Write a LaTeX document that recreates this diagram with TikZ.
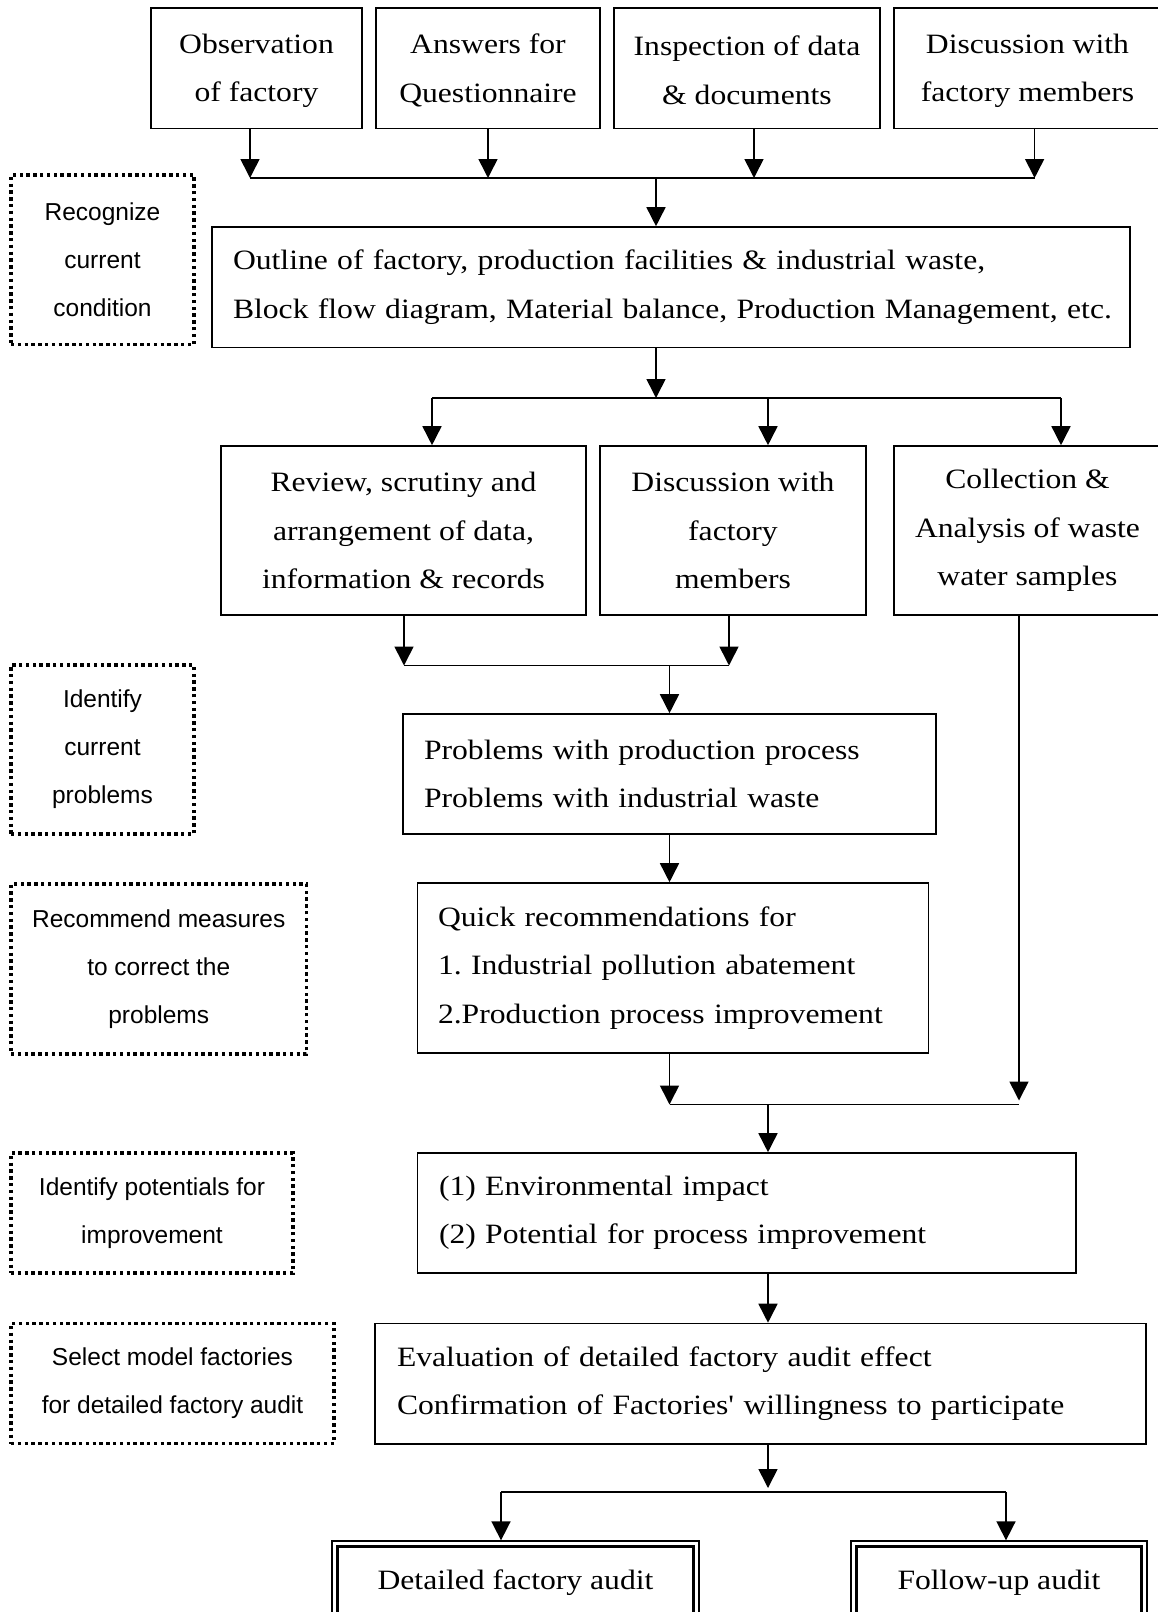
\documentclass[tikz,border=0pt]{standalone}
\usepackage{fontspec}
\usetikzlibrary{arrows.meta,calc}
\newfontfamily\boxserif{Liberation Serif}[FakeStretch=1.13]
\newfontfamily\noteSans{Liberation Sans}
\frenchspacing
\tikzset{
  flowbox/.style={draw, line width=1.6pt, inner sep=0pt, align=center,
    font=\boxserif\fontsize{28}{48.3}\selectfont},
  leftbox/.style={draw, line width=1.6pt, inner ysep=0pt, align=left,
    font=\boxserif\fontsize{28}{48.3}\selectfont},
  notebox/.style={draw, line width=3.4pt, dash pattern=on 3.4pt off 3.4pt,
    inner sep=0pt, align=center,
    font=\noteSans\fontsize{24.5}{48}\selectfont},
  endbox/.style={draw, line width=1.3pt, inner sep=0pt, align=center,
    font=\boxserif\fontsize{28}{48.3}\selectfont},
  link/.style={line width=1.6pt},
  flow/.style={line width=1.6pt, -{Triangle[length=19pt,width=19pt]}},
}
\begin{document}
\begin{tikzpicture}[x=1pt, y=-1pt]
\useasboundingbox (0,0) rectangle (1158,1612);
\clip (0,0) rectangle (1158,1612);

% ---- information sources ----
\node[flowbox, minimum width=211pt, minimum height=120.5pt] (obs) at (256.5,68.25)
  {\rule{0pt}{24pt}Observation\\of factory};
\node[flowbox, minimum width=224pt, minimum height=120.5pt] (ans) at (488,68.25)
  {\rule{0pt}{24pt}Answers for\\Questionnaire};
\node[flowbox, minimum width=266pt, minimum height=120.5pt] (insp) at (747,68.25)
  {\rule{0pt}{24pt}Inspection of data\\\& documents};
\node[flowbox, minimum width=267pt, minimum height=120.5pt] (disc) at (1027.5,68.25)
  {\rule{0pt}{24pt}Discussion with\\factory members};

\coordinate (j1a) at (250,178);
\coordinate (j1b) at (488,178);
\coordinate (j1c) at (754,178);
\coordinate (j1d) at (1034.6,178);
\coordinate (j1m) at (656,178);

% ---- outline ----
\node[leftbox, inner xsep=21pt, text width=876pt, minimum height=120.6pt] (outl) at (671,287.3)
  {\mbox{Outline of factory, production facilities \& industrial waste,}\\
   \mbox{Block flow diagram, Material balance, Production Management, etc.}};

\coordinate (j2m) at (656,398);
\coordinate (j2a) at (432,398);
\coordinate (j2b) at (768,398);
\coordinate (j2c) at (1061,398);

% ---- analysis ----
\node[flowbox, minimum width=365pt, minimum height=169pt] (rev) at (403.5,530.5)
  {Review, scrutiny and\\arrangement of data,\\information \& records};
\node[flowbox, minimum width=266pt, minimum height=169pt] (disc2) at (733,530.5)
  {Discussion with\\factory\\members};
\node[flowbox, minimum width=267pt, minimum height=169pt] (coll) at (1027.5,530.5)
  {Collection \&\\Analysis of waste\\water samples};

\coordinate (j3a) at (404,665.5);
\coordinate (j3b) at (729,665.5);
\coordinate (j3m) at (669.5,665.5);

\node[leftbox, inner xsep=21pt, text width=491pt, minimum height=120pt] (prob) at (669.5,774)
  {Problems with production process\\Problems with industrial waste};

\node[leftbox, inner xsep=20.5pt, text width=470pt, minimum height=170pt] (quick) at (673,968)
  {Quick recommendations for\\1. Industrial pollution abatement\\2.Production process improvement};

\coordinate (j4a) at (669.5,1104.5);
\coordinate (j4b) at (1019,1104.5);
\coordinate (j4m) at (768,1104.5);

\node[leftbox, inner xsep=21.5pt, text width=615.5pt, minimum height=120pt] (env) at (746.75,1213)
  {(1) Environmental impact\\(2) Potential for process improvement};

\node[leftbox, inner xsep=22pt, text width=727pt, minimum height=120.5pt] (eval) at (760.5,1383.75)
  {Evaluation of detailed factory audit effect\\Confirmation of Factories' willingness to participate};

\coordinate (j5m) at (768,1492);
\coordinate (j5a) at (501,1492);
\coordinate (j5b) at (1006,1492);

% ---- final audits (double frame) ----
\node[endbox, minimum width=367pt, minimum height=84pt] (det) at (515.5,1583)
  {Detailed factory audit};
\node[draw, line width=2.4pt, inner sep=0pt, minimum width=356pt, minimum height=73pt]
  (detin) at (det.center) {};
\node[endbox, minimum width=296pt, minimum height=84pt] (fol) at (999,1583)
  {Follow-up audit};
\node[draw, line width=2.4pt, inner sep=0pt, minimum width=285pt, minimum height=73pt]
  (folin) at (fol.center) {};

% ---- stage notes ----
\node[notebox, minimum width=183pt, minimum height=169.5pt] (n1) at (102.5,259.75)
  {Recognize\\current\\condition};
\node[notebox, minimum width=183pt, minimum height=169pt] (n2) at (102.5,749.5)
  {Identify\\current\\problems};
\node[notebox, minimum width=295.5pt, minimum height=170pt] (n3) at (158.75,969)
  {Recommend measures\\to correct the\\problems};
\node[notebox, minimum width=282pt, minimum height=120pt] (n4) at (152,1213)
  {Identify potentials for\\improvement};
\node[notebox, minimum width=323pt, minimum height=120pt] (n5) at (172.5,1383.5)
  {Select model factories\\for detailed factory audit};

% ---- connectors ----
\draw[flow] (obs.south -| j1a) -- (j1a);
\draw[flow] (ans.south -| j1b) -- (j1b);
\draw[flow] (insp.south -| j1c) -- (j1c);
\draw[flow] (disc.south -| j1d) -- (j1d);
\draw[link] (j1a) -- (j1d);
\draw[flow] (j1m) -- (outl.north -| j1m);

\draw[flow] (outl.south -| j2m) -- (j2m);
\draw[link] (j2a) -- (j2c);
\draw[flow] (j2a) -- (rev.north -| j2a);
\draw[flow] (j2b) -- (disc2.north -| j2b);
\draw[flow] (j2c) -- (coll.north -| j2c);

\draw[flow] (rev.south -| j3a) -- (j3a);
\draw[flow] (disc2.south -| j3b) -- (j3b);
\draw[link] (j3a) -- (j3b);
\draw[flow] (j3m) -- (prob.north -| j3m);

\draw[flow] (prob.south -| j3m) -- (quick.north -| j3m);

\draw[flow] (quick.south -| j4a) -- (j4a);
\draw[flow] (coll.south -| j4b) -- ($(j4b)+(0,-4)$);
\draw[link] (j4a) -- (j4b);
\draw[flow] (j4m) -- (env.north -| j4m);

\draw[flow] (env.south -| j4m) -- (eval.north -| j4m);

\draw[flow] (eval.south -| j5m) -- ($(j5m)+(0,-4)$);
\draw[link] (j5a) -- (j5b);
\draw[flow] (j5a) -- (det.north -| j5a);
\draw[flow] (j5b) -- (fol.north -| j5b);
\end{tikzpicture}
\end{document}
